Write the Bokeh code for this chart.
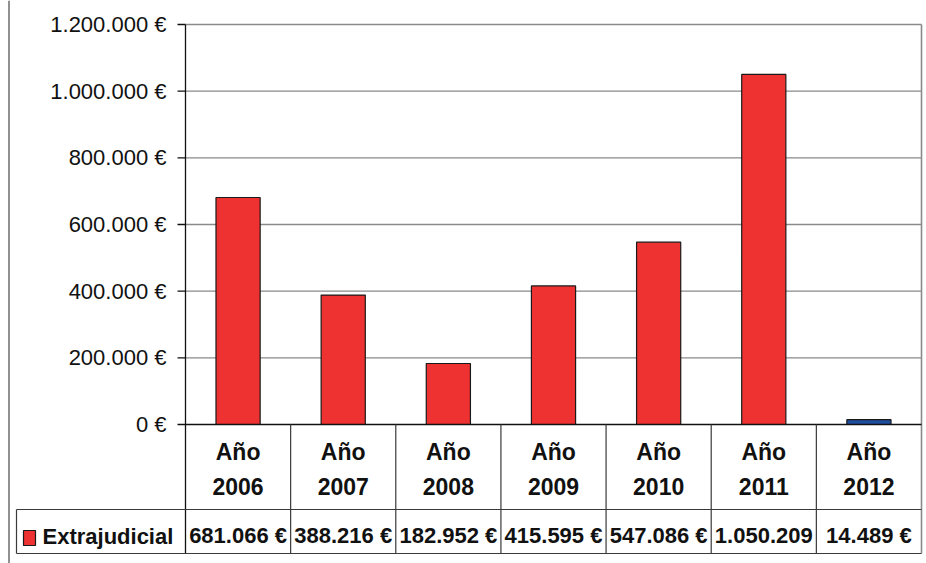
from bokeh.plotting import figure
from bokeh.models import Range1d, ColumnDataSource
from bokeh.embed import file_html
from bokeh.resources import INLINE
from bokeh.core.properties import value

# ---- data ----
categories = ["2006", "2007", "2008", "2009", "2010", "2011", "2012"]
category_prefix = "Año"
values = [681066, 388216, 182952, 415595, 547086, 1050209, 14489]
value_labels = ["681.066 €", "388.216 €", "182.952 €", "415.595 €",
                "547.086 €", "1.050.209", "14.489 €"]
bar_colors = ["#EE3131", "#EE3131", "#EE3131", "#EE3131", "#EE3131", "#EE3131", "#1F4E9E"]
tick_values = [0, 200000, 400000, 600000, 800000, 1000000, 1200000]
tick_labels = ["0 €", "200.000 €", "400.000 €", "600.000 €", "800.000 €",
               "1.000.000 €", "1.200.000 €"]
series_name = "Extrajudicial"
legend_color = "#EE3131"

# ---- layout (figure pixels) ----
FW, FH = 926, 563
PLOT_L = 185            # left edge of plot area
CAT_W = (921 - 185) / 7  # width of one category
Y0 = 424                # pixel row of value 0
VPP = 1200000 / 400     # value per pixel
FONT = value("Liberation Sans")
N = len(categories)


def X(fx):
    return (fx - PLOT_L) / CAT_W


def Y(fy):
    return (Y0 - fy) * VPP


p = figure(width=FW, height=FH,
           x_range=Range1d(X(0), X(FW)), y_range=Range1d(Y(FH), Y(0)),
           x_axis_type=None, y_axis_type=None,
           output_backend="svg", toolbar_location=None, min_border=0)
p.grid.visible = False
p.outline_line_color = None
p.background_fill_color = "white"

ymax = tick_values[-1]
TABLE_HDR = Y(509)
TABLE_BOT = Y(553)
LEG_L = X(16)

# gridlines
grid_src = ColumnDataSource(dict(y=tick_values[1:]))
p.segment(x0=0, x1=N, y0="y", y1="y", source=grid_src, line_color="#8a8a8a", line_width=1.3)
# right border of plot area + table
p.segment(x0=N, x1=N, y0=TABLE_BOT, y1=ymax, line_color="#8a8a8a", line_width=1.6)

# bars
bar_src = ColumnDataSource(dict(x=[i + 0.5 for i in range(N)], top=values, color=bar_colors))
p.vbar(x="x", top="top", bottom=0, width=0.42, source=bar_src,
       fill_color="color", line_color="#1a1a1a", line_width=1.2)

# outer chart border (left)
p.segment(x0=X(8.5), x1=X(8.5), y0=Y(FH), y1=Y(0), line_color="#222222", line_width=1)

# y axis line and ticks
p.segment(x0=0, x1=0, y0=TABLE_BOT, y1=ymax, line_color="#111111", line_width=1.3)
tick_src = ColumnDataSource(dict(y=tick_values, label=tick_labels))
p.segment(x0=X(PLOT_L - 8), x1=0, y0="y", y1="y", source=tick_src, line_color="#111111", line_width=1.3)
p.segment(x0=0, x1=N, y0=0, y1=0, line_color="#111111", line_width=1.3)
p.text(x=X(166), y="y", text="label", source=tick_src, text_font=FONT, text_font_size="22px",
       text_align="right", text_baseline="middle", text_color="#111111")

# data table
p.segment(x0=list(range(1, N)), x1=list(range(1, N)), y0=TABLE_BOT, y1=0,
          line_color="#3a3a3a", line_width=1.2)
p.segment(x0=[LEG_L, LEG_L], x1=[N, N], y0=[TABLE_HDR, TABLE_BOT], y1=[TABLE_HDR, TABLE_BOT],
          line_color="#3a3a3a", line_width=1.2)
p.segment(x0=LEG_L, x1=LEG_L, y0=TABLE_BOT, y1=TABLE_HDR, line_color="#3a3a3a", line_width=1.2)

hdr_src = ColumnDataSource(dict(x=[i + 0.5 for i in range(N)],
                                top=[category_prefix] * N, year=categories, val=value_labels))
p.text(x="x", y=Y(451), text="top", source=hdr_src, text_font=FONT, text_font_size="23px",
       text_font_style="bold", text_align="center", text_baseline="alphabetic", text_color="#111111")
p.text(x="x", y=Y(486), text="year", source=hdr_src, text_font=FONT, text_font_size="23px",
       text_font_style="bold", text_align="center", text_baseline="alphabetic", text_color="#111111")
p.text(x="x", y=Y(535), text="val", source=hdr_src, text_font=FONT, text_font_size="22px",
       text_font_style="bold", text_align="center", text_baseline="alphabetic", text_color="#111111")

# legend key
p.quad(left=X(23), right=X(35), top=Y(530), bottom=Y(545), fill_color=legend_color,
       line_color="#1a1a1a", line_width=1.2)
p.text(x=X(42), y=Y(536), text=[series_name], text_font=FONT, text_font_size="22px",
       text_font_style="bold", text_align="left", text_baseline="alphabetic", text_color="#111111")

open("out.html", "w").write(file_html(p, INLINE))
